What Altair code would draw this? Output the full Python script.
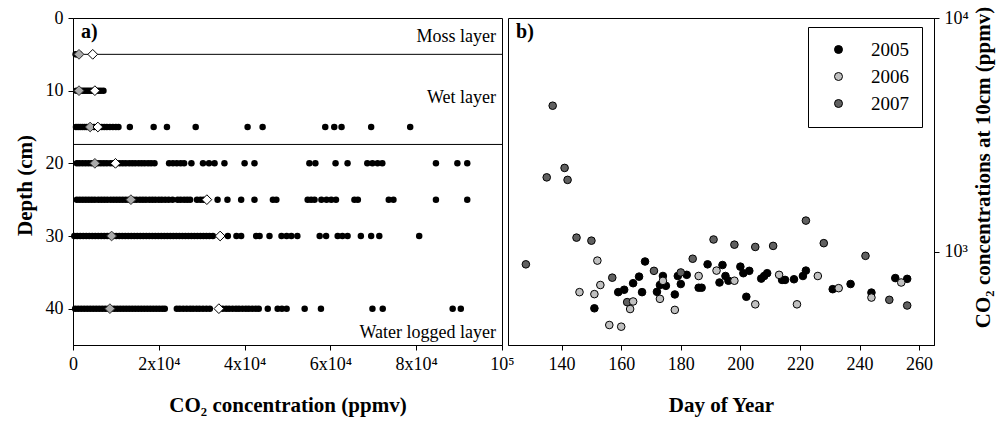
import altair as alt
import pandas as pd

FONT = "Liberation Serif"

# ---------------- Panel a: CO2 profile data (ppmv) by depth (cm) ----------------
depths = [5, 10, 15, 20, 25, 30, 40]
co2_d5 = [600, 900, 1200, 1500]
co2_d10 = [800, 1300, 1800, 2300, 2800, 3300, 3800, 4300, 4800, 5300, 5900, 6500, 7100]
co2_d15 = [700, 1200, 1700, 2200, 2700, 3200, 3700, 4300, 4900, 5500, 6100, 6700, 7300,
           7900, 8600, 9300, 10000, 10600, 13250, 18800, 21900, 28600, 40700, 44200,
           58800, 60900, 62600, 69500, 78600]
co2_d20 = [900, 1500, 2200, 2900, 3600, 4300, 5000, 5800, 6500, 7200, 7900, 8700, 9400,
           10100, 10900, 11600, 12300, 13100, 13800, 14500, 15300, 16000, 16700, 17500,
           18200, 19000, 22400, 23300, 24200, 25100, 25900, 27600, 30300, 31700, 33000,
           35300, 40000, 42300, 55100, 56500, 61200, 64000, 68600, 69800, 71000, 72100,
           84600, 89600, 91900]
co2_d25 = [900, 1600, 2300, 3000, 3700, 4400, 5100, 5900, 6600, 7300, 8000, 8800, 9500,
           10200, 10900, 11600, 12300, 13000, 14100, 14800, 15600, 16300, 17000, 17800,
           18500, 19200, 20000, 20700, 21500, 22300, 23200, 24400, 25100, 25900, 26600,
           27300, 28900, 29700, 30400, 33700, 36000, 39200, 42300, 46600, 47400, 54700,
           55500, 56300, 57900, 59100, 60200, 61300, 65600, 66400, 73600, 74700, 84600,
           91900]
co2_d30 = [300, 1000, 1700, 2400, 3100, 3800, 4500, 5200, 5900, 6600, 7300, 8000, 8700,
           9400, 10100, 10800, 11500, 12200, 12900, 13600, 14300, 15000, 15700, 16400,
           17100, 17800, 18500, 19200, 19900, 20600, 21300, 22000, 22700, 23400, 24100,
           24800, 25500, 26200, 26900, 27600, 28300, 29000, 29700, 30400, 31100, 31800,
           32600, 36100, 38100, 39200, 42700, 43500, 45800, 48600, 49800, 50900, 52300,
           57500, 59000, 61700, 62800, 64000, 67100, 69500, 71400, 80700]
co2_d40 = [500, 1200, 1900, 2600, 3300, 4000, 4700, 5400, 6100, 6800, 7500, 8200, 8900,
           9600, 10300, 11000, 11700, 12400, 13100, 13800, 14500, 15200, 15900, 16600,
           17300, 18000, 18700, 19400, 20100, 20800, 21400, 24200, 24900, 25700, 26500,
           27300, 28000, 28800, 29500, 30300, 31100, 31900, 34900, 35700, 36400, 37200,
           38000, 38700, 39500, 40300, 41000, 41800, 42600, 43300, 45400, 47700, 48700,
           49800, 54000, 57800, 69800, 72200, 88500, 90400]
grey_diamond = [1400, 1400, 4000, 5100, 13500, 9000, 8600]
white_diamond = [4600, 5100, 5800, 9900, 31200, 34300, 34000]

layer_bounds = [5, 17.4]
layer_names = ["Moss layer", "Wet layer", "Water logged layer"]
layer_label_depth = [2.6, 11.0, 43.4]
layer_label_x = [98600, 98600, 98600]

a_ticks = [0, 20000, 40000, 60000, 80000, 100000]
depth_ticks = [0, 10, 20, 30, 40]

# ---------------- Panel b: CO2 at 10 cm by day of year ----------------
years = ["2005", "2006", "2007"]
days_2005 = [151, 159, 161, 164, 166, 167, 168, 172, 173, 174, 175, 178, 179, 180, 182,
             186, 187, 189, 193, 194, 195, 196, 200, 201, 202, 203, 207, 208, 209, 214,
             215, 218, 221, 222, 231, 237, 244, 252, 256]
co2_2005 = [574, 673, 689, 735, 784, 673, 910, 675, 722, 789, 716, 658, 789, 729, 798,
            703, 703, 885, 740, 879, 789, 753, 865, 811, 643, 830, 769, 789, 811, 759,
            759, 764, 789, 832, 693, 729, 670, 773, 767]
days_2006 = [146, 151, 152, 153, 156, 160, 163, 164, 173, 174, 178, 186, 192, 198, 205,
             213, 219, 226, 233, 244, 254]
co2_2006 = [673, 660, 918, 722, 487, 479, 570, 614, 630, 752, 565, 789, 832, 753, 597,
            798, 597, 789, 700, 638, 740]
days_2007 = [128, 135, 137, 141, 142, 145, 150, 157, 162, 171, 180, 184, 191, 198, 205,
             211, 222, 228, 242, 250, 256]
co2_2007 = [885, 2083, 4217, 2286, 2032, 1151, 1117, 776, 610, 830, 817, 935, 1130, 1074,
            1050, 1061, 1361, 1090, 962, 624, 590]
year_colors = ["#000000", "#c0c0c0", "#606060"]
day_ticks = [140, 160, 180, 200, 220, 240, 260]

# ---------------- build tables ----------------
profile_lists = [co2_d5, co2_d10, co2_d15, co2_d20, co2_d25, co2_d30, co2_d40]
dots = pd.DataFrame([{"co2": v, "depth": d} for d, lst in zip(depths, profile_lists) for v in lst])
grey_df = pd.DataFrame({"co2": grey_diamond, "depth": depths})
white_df = pd.DataFrame({"co2": white_diamond, "depth": depths})
bounds_df = pd.DataFrame({"depth": layer_bounds})
names_df = pd.DataFrame({"co2": layer_label_x, "depth": layer_label_depth, "label": layer_names})
tag_a = pd.DataFrame({"co2": [1860], "depth": [1.9], "label": ["a)"]})

b_rows = []
for yr, ds, cs in [("2005", days_2005, co2_2005), ("2007", days_2007, co2_2007), ("2006", days_2006, co2_2006)]:
    for d, c in zip(ds, cs):
        b_rows.append({"day": d, "co2b": c, "year": yr})
bdf = pd.DataFrame(b_rows)
tag_b = pd.DataFrame({"day": [124.7], "co2b": [8710], "label": ["b)"]})

# ---------------- panel a ----------------
xa = alt.Scale(domain=[0, 100000], nice=False, zero=False)
ya = alt.Scale(domain=[0, 45], reverse=True, nice=False, zero=False)

xa_axis = alt.Axis(values=a_ticks, title="CO\u2082 concentration (ppmv)", labelFlush=False,
                   labelOverlap=False,
                   labelExpr="datum.value == 0 ? '0' : (datum.value == 100000 ? '10\u2075' : (datum.value/10000) + 'x10\u2074')",
                   titleY=60, titleBaseline="middle")
ya_axis = alt.Axis(values=depth_ticks, title="Depth (cm)", labelFlush=False, labelOverlap=False,
                   titleAngle=270, titleX=-48, titleY=167, titleAlign="center", titleBaseline="middle")

rules = alt.Chart(bounds_df).mark_rule(color="black", strokeWidth=1).encode(
    y=alt.Y("depth:Q", scale=ya, axis=ya_axis)
)
pts = alt.Chart(dots).mark_circle(color="black", opacity=1, size=42).encode(
    x=alt.X("co2:Q", scale=xa, axis=xa_axis),
    y=alt.Y("depth:Q", scale=ya, axis=ya_axis),
)
gd = alt.Chart(grey_df).mark_point(shape="diamond", filled=True, fill="#aaaaaa", stroke="#333333",
                                   strokeWidth=1, opacity=1, size=95).encode(
    x=alt.X("co2:Q", scale=xa), y=alt.Y("depth:Q", scale=ya))
wd = alt.Chart(white_df).mark_point(shape="diamond", filled=True, fill="white", stroke="black",
                                    strokeWidth=1, opacity=1, size=95).encode(
    x=alt.X("co2:Q", scale=xa), y=alt.Y("depth:Q", scale=ya))
names = alt.Chart(names_df).mark_text(align="right", baseline="middle", font=FONT, fontSize=18,
                                      color="black").encode(
    x=alt.X("co2:Q", scale=xa), y=alt.Y("depth:Q", scale=ya), text="label:N")
ta = alt.Chart(tag_a).mark_text(align="left", baseline="middle", font=FONT, fontSize=20,
                                fontWeight="bold", color="black").encode(
    x=alt.X("co2:Q", scale=xa), y=alt.Y("depth:Q", scale=ya), text="label:N")

panel_a = alt.layer(rules, pts, gd, wd, names, ta).properties(width=429, height=327)

# ---------------- panel b ----------------
xb = alt.Scale(domain=[122, 265], nice=False, zero=False)
yb = alt.Scale(type="log", domain=[400, 10000], nice=False)

xb_axis = alt.Axis(values=day_ticks, title="Day of Year", labelFlush=False, labelOverlap=False,
                   titleY=60, titleBaseline="middle")
yb_axis = alt.Axis(orient="right", values=[1000, 10000], title="CO\u2082 concentrations at 10cm (ppmv)",
                   labelFlush=False, labelOverlap=False,
                   labelExpr="datum.value == 1000 ? '10\u00b3' : '10\u2074'",
                   titleAngle=270, titleX=49, titleY=149, titleAlign="center", titleBaseline="middle")

bpts = alt.Chart(bdf).mark_circle(stroke="black", strokeWidth=1, opacity=1, size=58).encode(
    x=alt.X("day:Q", scale=xb, axis=xb_axis),
    y=alt.Y("co2b:Q", scale=yb, axis=yb_axis),
    color=alt.Color("year:N", scale=alt.Scale(domain=years, range=year_colors),
                    legend=alt.Legend(title=None, orient="none", legendX=735, legendY=9,
                                      strokeColor="black", fillColor="white", padding=13,
                                      rowPadding=7, symbolOffset=8, labelOffset=23,
                                      symbolSize=64, symbolType="circle",
                                      symbolStrokeColor="black", symbolStrokeWidth=1,
                                      labelFont=FONT, labelFontSize=19, labelColor="black",
                                      cornerRadius=0)),
)
tb = alt.Chart(tag_b).mark_text(align="left", baseline="middle", font=FONT, fontSize=20,
                                fontWeight="bold", color="black").encode(
    x=alt.X("day:Q", scale=xb), y=alt.Y("co2b:Q", scale=yb), text="label:N")

panel_b = alt.layer(bpts, tb).properties(width=426, height=327)

chart = alt.hconcat(panel_a, panel_b, spacing=6, bounds="flush").properties(
    padding={"left": 13, "top": 5, "right": 5, "bottom": 5}, background="white"
).configure_view(stroke="black", strokeWidth=1).configure_axis(
    grid=False, domainColor="black", tickColor="black", labelColor="black", titleColor="black",
    labelFont=FONT, titleFont=FONT, labelFontSize=18, titleFontSize=21, titleFontWeight="bold",
    tickSize=5, labelPadding=5, domainWidth=1, tickWidth=1
)

chart.save("out.html", embed_options={"renderer": "svg", "actions": False})
